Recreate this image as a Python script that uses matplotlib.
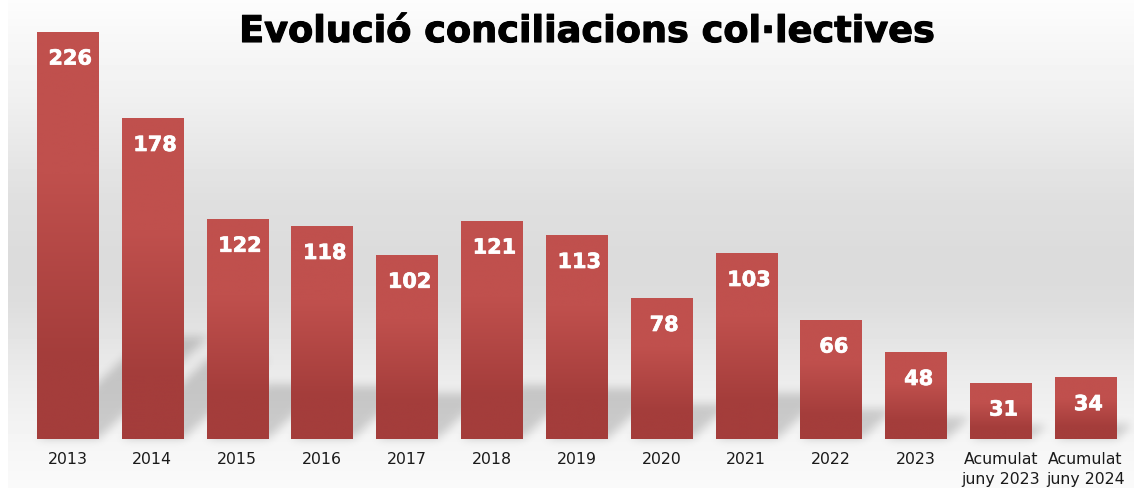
import numpy as np
import matplotlib
matplotlib.use("Agg")
import matplotlib.pyplot as plt
import matplotlib.patheffects as pe
from matplotlib.path import Path

# dades
categories = ["2013", "2014", "2015", "2016", "2017", "2018", "2019", "2020",
              "2021", "2022", "2023", "Acumulat\njuny 2023", "Acumulat\njuny 2024"]
values = [226, 178, 122, 118, 102, 121, 113, 78, 103, 66, 48, 31, 34]
title = "Evolució conciliacions col·lectives"

W, H = 1134, 489
fig = plt.figure(figsize=(W / 100, H / 100), dpi=100)

# fons amb degradat vertical
bg = fig.add_axes([0, 0, 1, 1], zorder=0)
bg.axis("off")
stops_y = [0, 100, 200, 260, 300, 380, 440, 489]
stops_v = [0.99, 0.94, 0.875, 0.86, 0.865, 0.925, 0.96, 0.98]
col = np.interp(np.arange(H), stops_y, stops_v)
grad = np.repeat(col[:, None], W, axis=1)
grad[:, :8] = 1.0
bg.imshow(grad, cmap="gray", vmin=0, vmax=1, extent=(0, W, H, 0),
          aspect="auto", interpolation="nearest")
bg.set_xlim(0, W)
bg.set_ylim(H, 0)

ax = fig.add_axes([25 / W, 49 / H, 1103 / W, 432 / H], zorder=1)
ax.patch.set_alpha(0)
x = np.arange(len(values))
bars = ax.bar(x, values, width=0.72, color="none", edgecolor="none")
ax.set_xlim(-0.5, len(values) - 0.5)
ax.set_ylim(0, 240)

# barres amb degradat
light = np.array([192, 80, 77]) / 255
dark = np.array([164, 61, 59]) / 255
f = np.linspace(1, 0, 400)
t = np.clip((f - 0.2) / 0.45, 0, 1)
bar_img = (dark[None, :] + t[:, None] * (light - dark)[None, :])[:, None, :]
for b in bars:
    x0 = b.get_x()
    ax.imshow(bar_img, extent=(x0, x0 + b.get_width(), 0, b.get_height()),
              aspect="auto", interpolation="bilinear", zorder=2)
ax.set_xlim(-0.5, len(values) - 0.5)
ax.set_ylim(0, 240)

# ombres
gx, gy = np.meshgrid(np.arange(W) + 0.5, np.arange(H) + 0.5)
pts = np.column_stack([gx.ravel(), gy.ravel()])
mask = np.zeros(H * W)
for b in bars:
    x0, x1 = b.get_x(), b.get_x() + b.get_width()
    (px0, py0), (px1, py1) = ax.transData.transform([(x0, 0), (x1, b.get_height())])
    h = py1 - py0
    base = H - py0
    dx, dy = 0.27 * h, 0.25 * h
    poly = [(px0, base), (px1, base), (px1 + dx, base - dy), (px0 + dx, base - dy)]
    mask = np.maximum(mask, Path(poly).contains_points(pts))
mask = mask.reshape(H, W)


def box_blur(a, r):
    k = np.ones(2 * r + 1) / (2 * r + 1)
    a = np.apply_along_axis(lambda m: np.convolve(m, k, mode="same"), 0, a)
    a = np.apply_along_axis(lambda m: np.convolve(m, k, mode="same"), 1, a)
    return a


for _ in range(3):
    mask = box_blur(mask, 4)
shadow = np.zeros((H, W, 4))
shadow[..., 3] = mask * 0.17
bg.imshow(shadow, extent=(0, W, H, 0), aspect="auto", interpolation="nearest")
bg.set_xlim(0, W)
bg.set_ylim(H, 0)

# etiquetes
for xi, v in zip(x, values):
    ax.annotate(str(v), (xi, v), xytext=(2, -19), textcoords="offset points",
                ha="center", va="center", color="white", fontsize=15,
                fontweight="bold", zorder=3,
                path_effects=[pe.withStroke(linewidth=0.5, foreground="white")])

ax.set_xticks(x, categories, fontsize=11.3, color="#1a1a1a", linespacing=1.35)
ax.tick_params(axis="x", length=0, pad=9)
ax.set_yticks([])
for s in ax.spines.values():
    s.set_visible(False)

fig.text(587.5 / W, 1 - 43 / H, title, ha="center", va="baseline",
         fontsize=26.4, fontweight="bold", color="black",
         path_effects=[pe.withStroke(linewidth=0.8, foreground="black")])

fig.savefig("out.png", dpi=100)
